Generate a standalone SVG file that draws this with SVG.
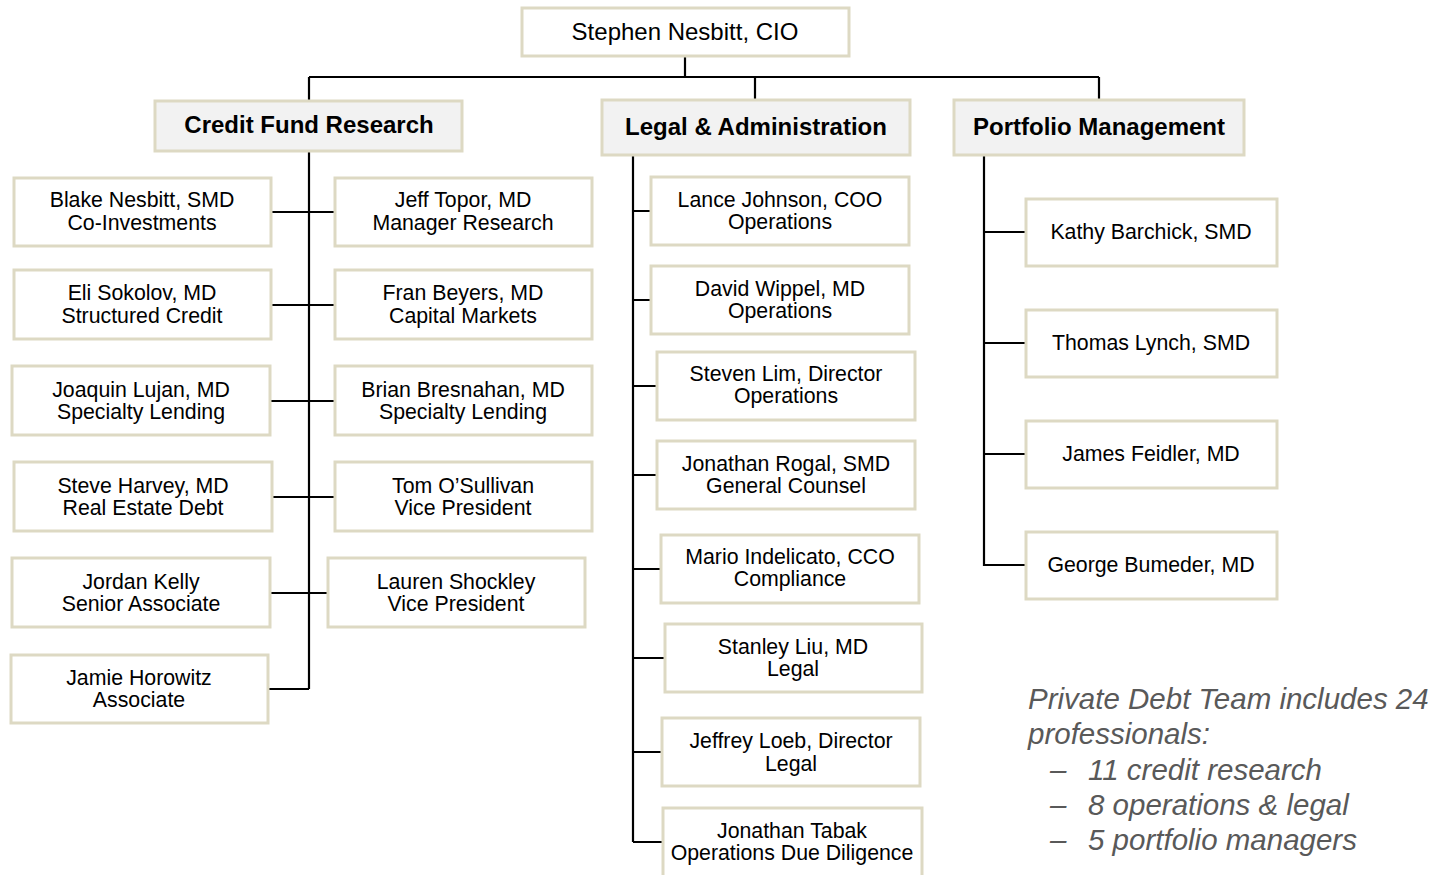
<svg xmlns="http://www.w3.org/2000/svg" width="1437" height="875" viewBox="0 0 1437 875">
<style>
.box{fill:#ffffff;stroke:#ddd9c3;stroke-width:3}
.hdr{fill:#f2f2f2;stroke:#ddd9c3;stroke-width:3}
.t{font-family:"Liberation Sans",Arial,sans-serif;font-size:21.3px;fill:#000;text-anchor:middle}
.ht{font-family:"Liberation Sans",Arial,sans-serif;font-size:24px;font-weight:bold;fill:#000;text-anchor:middle}
.ct{font-family:"Liberation Sans",Arial,sans-serif;font-size:24px;fill:#000;text-anchor:middle}
.note{font-family:"Liberation Sans",Arial,sans-serif;font-size:29.5px;font-style:italic;fill:#595959}
.ln{stroke:#000;stroke-width:2.2;fill:none}
</style>
<rect width="1437" height="875" fill="#ffffff"/>
<g id="connectors" class="ln">
<path d="M685 56V77M309 77H1099M309 77V100M755 77V100M1099 77V100"/>
<path d="M309 151V689M271 212H335M271 305H335M270 401H335M272 497H335M270 593H328M268 689H309"/>
<path d="M633 155V842M633 211H651M633 300H651M633 386H657M633 475H657M633 569H661M633 658H665M633 752H662M633 842H663"/>
<path d="M984 155V566M984 232H1026M984 343H1026M984 454H1026M984 565H1026"/>
</g>
<g id="cio"><rect class="box" x="522" y="8" width="327" height="48"/><text class="ct" x="685" y="40">Stephen Nesbitt, CIO</text></g>
<g id="credit"><rect class="hdr" x="155" y="101" width="307" height="50"/><text class="ht" x="309" y="133">Credit Fund Research</text></g>
<g id="legal"><rect class="hdr" x="602" y="100" width="308" height="55"/><text class="ht" x="756" y="135">Legal &amp; Administration</text></g>
<g id="portfolio"><rect class="hdr" x="954" y="100" width="290" height="55"/><text class="ht" x="1099" y="135">Portfolio Management</text></g>

<g id="blake"><rect class="box" x="14" y="178" width="257" height="68"/><text class="t" x="142" y="207">Blake Nesbitt, SMD</text><text class="t" x="142" y="230">Co-Investments</text></g>
<g id="jeff"><rect class="box" x="335" y="178" width="257" height="68"/><text class="t" x="463" y="207">Jeff Topor, MD</text><text class="t" x="463" y="230">Manager Research</text></g>
<g id="eli"><rect class="box" x="14" y="270" width="257" height="69"/><text class="t" x="142" y="300">Eli Sokolov, MD</text><text class="t" x="142" y="323">Structured Credit</text></g>
<g id="fran"><rect class="box" x="335" y="270" width="257" height="69"/><text class="t" x="463" y="300">Fran Beyers, MD</text><text class="t" x="463" y="323">Capital Markets</text></g>
<g id="joaquin"><rect class="box" x="12" y="366" width="258" height="69"/><text class="t" x="141" y="397">Joaquin Lujan, MD</text><text class="t" x="141" y="419">Specialty Lending</text></g>
<g id="brian"><rect class="box" x="335" y="366" width="257" height="69"/><text class="t" x="463" y="397">Brian Bresnahan, MD</text><text class="t" x="463" y="419">Specialty Lending</text></g>
<g id="steve"><rect class="box" x="14" y="462" width="258" height="69"/><text class="t" x="143" y="493">Steve Harvey, MD</text><text class="t" x="143" y="515">Real Estate Debt</text></g>
<g id="tom"><rect class="box" x="335" y="462" width="257" height="69"/><text class="t" x="463" y="493">Tom O’Sullivan</text><text class="t" x="463" y="515">Vice President</text></g>
<g id="jordan"><rect class="box" x="12" y="558" width="258" height="69"/><text class="t" x="141" y="589">Jordan Kelly</text><text class="t" x="141" y="611">Senior Associate</text></g>
<g id="lauren"><rect class="box" x="328" y="558" width="257" height="69"/><text class="t" x="456" y="589">Lauren Shockley</text><text class="t" x="456" y="611">Vice President</text></g>
<g id="jamie"><rect class="box" x="11" y="655" width="257" height="68"/><text class="t" x="139" y="685">Jamie Horowitz</text><text class="t" x="139" y="707">Associate</text></g>

<g id="lance"><rect class="box" x="651" y="177" width="258" height="68"/><text class="t" x="780" y="207">Lance Johnson, COO</text><text class="t" x="780" y="229">Operations</text></g>
<g id="david"><rect class="box" x="651" y="266" width="258" height="68"/><text class="t" x="780" y="296">David Wippel, MD</text><text class="t" x="780" y="318">Operations</text></g>
<g id="steven"><rect class="box" x="657" y="352" width="258" height="68"/><text class="t" x="786" y="381">Steven Lim, Director</text><text class="t" x="786" y="403">Operations</text></g>
<g id="rogal"><rect class="box" x="657" y="441" width="258" height="68"/><text class="t" x="786" y="471">Jonathan Rogal, SMD</text><text class="t" x="786" y="493">General Counsel</text></g>
<g id="mario"><rect class="box" x="661" y="535" width="258" height="68"/><text class="t" x="790" y="564">Mario Indelicato, CCO</text><text class="t" x="790" y="586">Compliance</text></g>
<g id="stanley"><rect class="box" x="665" y="624" width="257" height="68"/><text class="t" x="793" y="654">Stanley Liu, MD</text><text class="t" x="793" y="676">Legal</text></g>
<g id="jeffrey"><rect class="box" x="662" y="718" width="258" height="68"/><text class="t" x="791" y="748">Jeffrey Loeb, Director</text><text class="t" x="791" y="771">Legal</text></g>
<g id="tabak"><rect class="box" x="663" y="808" width="259" height="75"/><text class="t" x="792" y="838">Jonathan Tabak</text><text class="t" x="792" y="860">Operations Due Diligence</text></g>

<g id="kathy"><rect class="box" x="1026" y="199" width="251" height="67"/><text class="t" x="1151" y="239">Kathy Barchick, SMD</text></g>
<g id="thomas"><rect class="box" x="1026" y="310" width="251" height="67"/><text class="t" x="1151" y="350">Thomas Lynch, SMD</text></g>
<g id="james"><rect class="box" x="1026" y="421" width="251" height="67"/><text class="t" x="1151" y="461">James Feidler, MD</text></g>
<g id="george"><rect class="box" x="1026" y="532" width="251" height="67"/><text class="t" x="1151" y="572">George Bumeder, MD</text></g>

<g id="note">
<text class="note" x="1028" y="709">Private Debt Team includes 24</text>
<text class="note" x="1028" y="744">professionals:</text>
<text class="note" x="1050" y="780">–</text><text class="note" x="1088" y="780">11 credit research</text>
<text class="note" x="1050" y="815">–</text><text class="note" x="1088" y="815">8 operations &amp; legal</text>
<text class="note" x="1050" y="850">–</text><text class="note" x="1088" y="850">5 portfolio managers</text>
</g>
</svg>
